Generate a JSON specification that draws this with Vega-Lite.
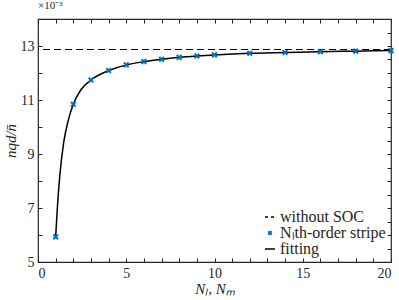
{
  "$schema": "https://vega.github.io/schema/vega-lite/v6.json",
  "width": 353,
  "height": 243,
  "autosize": {"type": "none"},
  "padding": {"left": 38, "top": 19, "right": 8, "bottom": 38},
  "background": "white",
  "config": {
    "font": "Liberation Serif",
    "view": {"stroke": "#262626", "strokeWidth": 1.2},
    "axis": {
      "grid": false,
      "domain": false,
      "tickSize": -4,
      "tickColor": "#262626",
      "tickWidth": 1,
      "labelFont": "Liberation Serif",
      "labelFontSize": 14,
      "labelColor": "#262626",
      "labelOverlap": false,
      "titleFont": "Liberation Serif",
      "titleFontSize": 15,
      "titleFontWeight": "normal",
      "titleFontStyle": "italic",
      "titleColor": "#262626"
    }
  },
  "title": {
    "text": "×10⁻³",
    "anchor": "start",
    "frame": "group",
    "font": "Liberation Serif",
    "fontSize": 11,
    "fontWeight": "normal",
    "color": "#262626",
    "offset": 1
  },
  "datasets": {
    "ref": [{"y": 12.87}],
    "pts": [
      {"n": 1, "v": 5.93}, {"n": 2, "v": 10.84}, {"n": 3, "v": 11.74}, {"n": 4, "v": 12.09},
      {"n": 5, "v": 12.30}, {"n": 6, "v": 12.42}, {"n": 7, "v": 12.51}, {"n": 8, "v": 12.58},
      {"n": 9, "v": 12.63}, {"n": 10, "v": 12.67}, {"n": 12, "v": 12.73}, {"n": 14, "v": 12.76},
      {"n": 16, "v": 12.79}, {"n": 18, "v": 12.81}, {"n": 20, "v": 12.83}
    ],
    "fit": [
      {"n": 1, "v": 5.93}, {"n": 1.09, "v": 6.93}, {"n": 1.23, "v": 8.16}, {"n": 1.45, "v": 9.40},
      {"n": 1.72, "v": 10.26}, {"n": 2, "v": 10.84}, {"n": 2.42, "v": 11.37}, {"n": 3, "v": 11.74},
      {"n": 4, "v": 12.09}, {"n": 5, "v": 12.30}, {"n": 6, "v": 12.42}, {"n": 7, "v": 12.51},
      {"n": 8, "v": 12.58}, {"n": 9, "v": 12.63}, {"n": 10, "v": 12.67}, {"n": 12, "v": 12.73},
      {"n": 14, "v": 12.76}, {"n": 16, "v": 12.79}, {"n": 18, "v": 12.81}, {"n": 20, "v": 12.83}
    ]
  },
  "layer": [
    {
      "data": {"name": "ref"},
      "mark": {"type": "rule", "strokeDash": [7, 4], "strokeWidth": 1.2},
      "encoding": {
        "y": {"field": "y", "type": "quantitative", "scale": {"domain": [5, 14]}, "axis": null},
        "color": {
          "datum": "without SOC",
          "scale": {"domain": ["without SOC", "Nₗth-order stripe", "fitting"], "range": ["#000000", "#0072BD", "#000000"]},
          "legend": {
            "orient": "bottom-right",
            "offset": 5,
            "title": null,
            "labelFont": "Liberation Serif",
            "labelFontSize": 16,
            "labelColor": "#262626",
            "rowPadding": 0,
            "symbolSize": 100,
            "symbolOffset": 0,
            "labelOffset": 2,
            "encode": {
              "symbols": {
                "update": {
                  "shape": {"signal": "datum.value === 'Nₗth-order stripe' ? 'M-1,-1L1,1M-1,1L1,-1' : 'stroke'"},
                  "stroke": {"signal": "datum.value === 'Nₗth-order stripe' ? '#0072BD' : '#000000'"},
                  "strokeDash": {"signal": "datum.value === 'without SOC' ? [3, 3] : [1, 0]"},
                  "strokeWidth": {"signal": "datum.value === 'Nₗth-order stripe' ? 2 : 1.5"},
                  "size": {"signal": "datum.value === 'Nₗth-order stripe' ? 12 : 100"},
                  "fill": {"value": "transparent"},
                  "opacity": {"value": 1}
                }
              }
            }
          }
        }
      }
    },
    {
      "data": {"name": "fit"},
      "mark": {"type": "line", "interpolate": "monotone", "strokeWidth": 1.5},
      "encoding": {
        "x": {"field": "n", "type": "quantitative", "scale": {"domain": [0, 20]},
              "axis": {"orient": "top", "values": [0,1,2,3,4,5,6,7,8,9,10,11,12,13,14,15,16,17,18,19,20], "labels": false, "title": null}},
        "y": {"field": "v", "type": "quantitative", "scale": {"domain": [5, 14]},
              "axis": {"orient": "right", "values": [5,5.5,6,6.5,7,7.5,8,8.5,9,9.5,10,10.5,11,11.5,12,12.5,13,13.5,14], "labels": false, "title": null}},
        "color": {"datum": "fitting"}
      }
    },
    {
      "data": {"name": "pts"},
      "mark": {"type": "point", "shape": "M-1,-1L1,1M-1,1L1,-1", "filled": false, "strokeWidth": 2, "size": 22, "opacity": 1},
      "encoding": {
        "x": {"field": "n", "type": "quantitative", "scale": {"domain": [0, 20]},
              "axis": {"orient": "bottom", "values": [0,1,2,3,4,5,6,7,8,9,10,11,12,13,14,15,16,17,18,19,20], "format": "d",
                       "labelExpr": "datum.value % 5 === 0 ? datum.label : ''", "labelPadding": 8, "title": "Nₗ, Nₘ", "titlePadding": 1}},
        "y": {"field": "v", "type": "quantitative", "scale": {"domain": [5, 14]},
              "axis": {"orient": "left", "values": [5,5.5,6,6.5,7,7.5,8,8.5,9,9.5,10,10.5,11,11.5,12,12.5,13,13.5,14], "format": "d",
                       "labelExpr": "datum.value % 2 === 1 ? datum.label : ''", "labelPadding": 8, "title": "nqd/n̄", "titlePadding": 2}},
        "color": {"datum": "Nₗth-order stripe"}
      }
    }
  ],
  "resolve": {"axis": {"x": "independent", "y": "independent"}}
}
